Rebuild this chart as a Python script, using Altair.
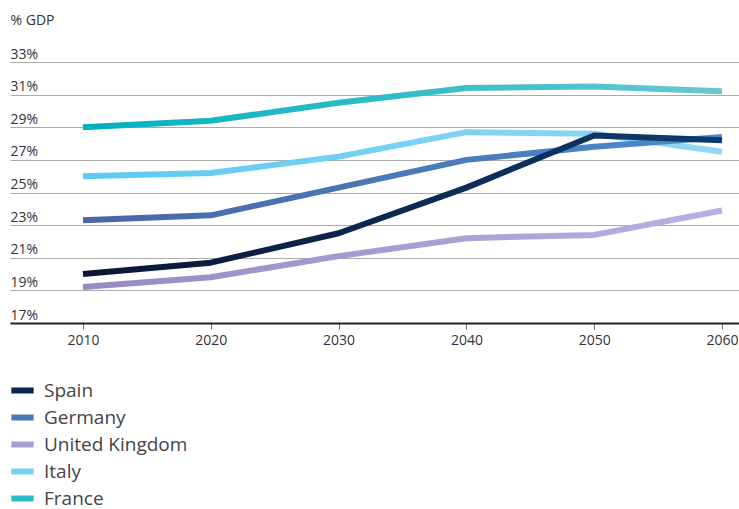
import altair as alt
import pandas as pd

# Age-related public spending projections, % of GDP
years = [2010, 2020, 2030, 2040, 2050, 2060]
countries = ["Spain", "Germany", "United Kingdom", "Italy", "France"]
spain = [20.0, 20.7, 22.5, 25.3, 28.5, 28.2]
germany = [23.3, 23.6, 25.3, 27.0, 27.8, 28.4]
united_kingdom = [19.2, 19.8, 21.1, 22.2, 22.4, 23.9]
italy = [26.0, 26.2, 27.2, 28.7, 28.6, 27.5]
france = [29.0, 29.4, 30.5, 31.4, 31.5, 31.2]

# gradient start/end colours per series, plus a flat colour for the legend
grad_start = ["#0a1535", "#4a66a8", "#978ac4", "#5ccaf1", "#00b1be"]
grad_end = ["#0e3c6e", "#4b8bc9", "#b9b0e0", "#93d7f5", "#66c8d0"]
legend_colors = ["#0b2550", "#4a78b8", "#a89ed2", "#72cff3", "#2bbcc6"]

y_ticks = [17, 19, 21, 23, 25, 27, 29, 31, 33]

series = [spain, germany, united_kingdom, italy, france]
df = pd.DataFrame(
    [
        {"year": y, "country": c, "value": v}
        for c, vals in zip(countries, series)
        for y, v in zip(years, vals)
    ]
)

FONT = "Open Sans"

x_enc = alt.X(
    "year:Q",
    scale=alt.Scale(domain=[2004.29, 2061.33], nice=False, zero=False),
    axis=alt.Axis(
        values=years,
        format="d",
        title=None,
        grid=False,
        domainColor="#222222",
        domainWidth=2,
        tickColor="#666666",
        tickSize=6,
        labelPadding=4,
        labelFontSize=14,
        labelColor="#333333",
        labelFont=FONT,
    ),
)
y_enc = alt.Y(
    "value:Q",
    scale=alt.Scale(domain=[17, 33], nice=False, zero=False),
    axis=alt.Axis(
        values=y_ticks,
        labelExpr="datum.value + '%'",
        grid=True,
        gridColor="#aaaaaa",
        gridWidth=1,
        domain=False,
        ticks=False,
        tickSize=0,
        labelAlign="left",
        labelPadding=0,
        labelBaseline="alphabetic",
        labelOffset=-4,
        labelFontSize=14,
        labelColor="#333333",
        labelFont=FONT,
        title="% GDP",
        titleAngle=0,
        titleAlign="left",
        titleBaseline="middle",
        titleX=0,
        titleY=-42,
        titleFontSize=14,
        titleFontWeight="normal",
        titleColor="#333333",
        titleFont=FONT,
    ),
)

base = alt.Chart(df)

# draw order: France at the back, Spain on top
layers = []
for i in [4, 3, 2, 1, 0]:
    grad = {
        "gradient": "linear",
        "x1": 0,
        "x2": 1,
        "y1": 0,
        "y2": 0,
        "stops": [
            {"offset": 0, "color": grad_start[i]},
            {"offset": 1, "color": grad_end[i]},
        ],
    }
    layers.append(
        base.transform_filter(alt.datum.country == countries[i])
        .mark_line(stroke=grad, strokeWidth=6, strokeCap="butt", strokeJoin="round")
        .encode(x=x_enc, y=y_enc)
    )

# invisible layer that carries the colour legend
legend_layer = base.mark_line(opacity=0).encode(
    x=x_enc,
    y=y_enc,
    color=alt.Color(
        "country:N",
        sort=countries,
        scale=alt.Scale(domain=countries, range=legend_colors),
        legend=alt.Legend(
            title=None,
            orient="none",
            legendX=-2,
            legendY=314,
            direction="vertical",
            symbolType="stroke",
            symbolSize=500,
            symbolStrokeWidth=6,
            symbolOpacity=1,
            labelFontSize=19,
            labelFont=FONT,
            labelColor="#444444",
            labelOffset=7,
            rowPadding=0,
        ),
    ),
)

chart = (
    alt.layer(*layers, legend_layer)
    .properties(
        width=729,
        height=261,
        autosize="none",
        padding={"left": 10, "top": 62, "right": 0, "bottom": 186},
        background="white",
    )
    .configure_view(stroke=None)
)

chart.save("out.html", embed_options={"renderer": "svg", "actions": False})
